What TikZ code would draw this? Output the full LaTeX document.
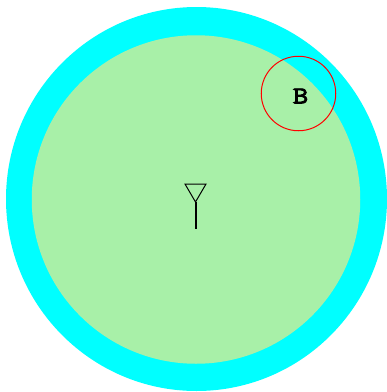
\documentclass[tikz,border=0pt]{standalone}
\usepackage{fontspec}
\newfontfamily\slabfont[FakeBold=3.5,FakeStretch=1.25]{Latin Modern Mono}
\usepackage{xcolor}
\usetikzlibrary{shapes.geometric, positioning}
\definecolor{ringcyan}{RGB}{0,255,255}
\definecolor{cellgreen}{RGB}{168,240,168}
\begin{document}
\begin{tikzpicture}[
  x=1pt, y=-1pt,
  every node/.style={align=center},
  cell/.style={ellipse, inner sep=0pt, draw=none},
  redring/.style={circle, inner sep=0pt, draw=red, line width=1pt},
  ant/.style={black, line width=1pt}
]
\useasboundingbox (0,0) rectangle (387,392);
\node[cell, fill=ringcyan, minimum width=381pt, minimum height=384pt] (outer) at (196.5,199) {};
\node[cell, fill=cellgreen, minimum width=328.5pt, minimum height=328.5pt] (inner) at (196,199.5) {};
\node[redring, minimum size=74.5pt] (reach) at (298.5,93.5) {};
\node[font=\slabfont\fontsize{24}{24}\selectfont, inner sep=0pt] (lblB) at (300.5,96) {B};
% antenna
\coordinate (tip) at (195.5,202);
\coordinate (foot) at (195.5,229);
\draw[ant] (185,184) -- (206,184) -- (tip) -- cycle;
\draw[ant, line width=2pt] (tip) -- (foot);
\end{tikzpicture}
\end{document}
